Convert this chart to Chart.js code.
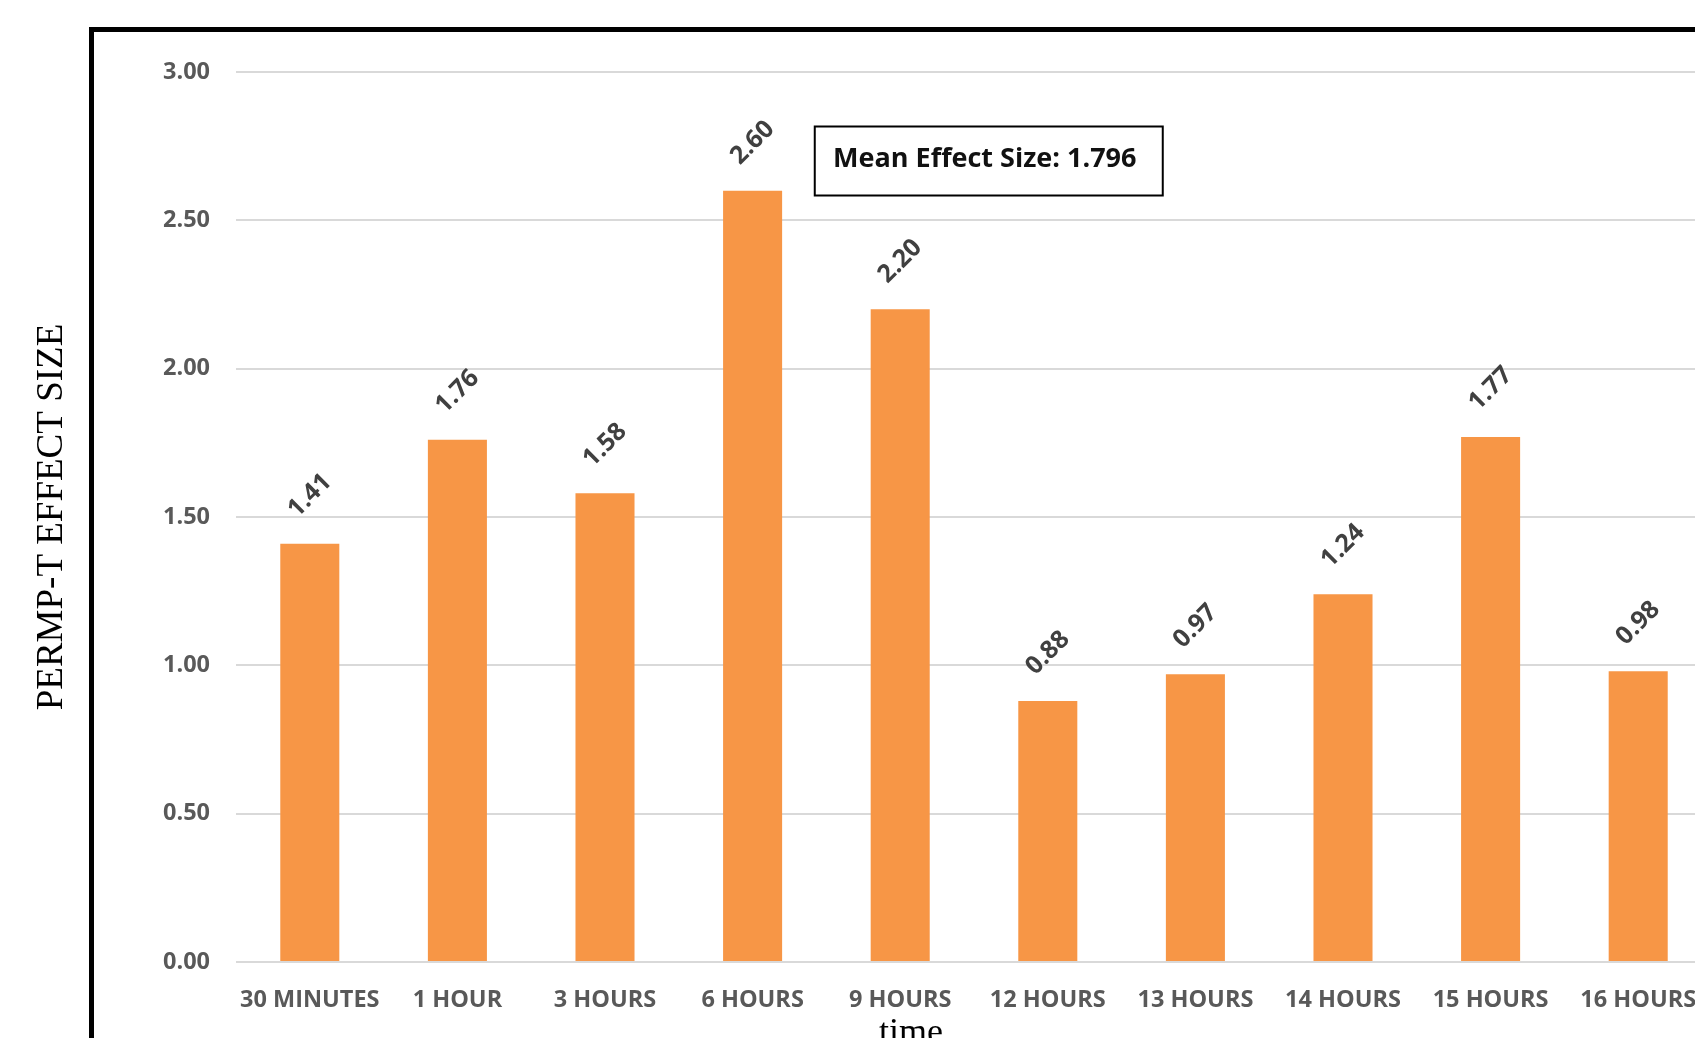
<!DOCTYPE html>
<html>
<head>
<meta charset="utf-8">
<title>PERMP-T effect size</title>
<script src="https://cdn.jsdelivr.net/npm/chart.js@4.4.0/dist/chart.umd.min.js"></script>
<style>
  html, body { margin: 0; padding: 0; background: #fff; overflow: hidden; }
  #wrap { position: absolute; left: 0; top: 0; width: 1720px; height: 1060px; }
</style>
</head>
<body>
<div id="wrap"><canvas id="chart" width="1720" height="1060"></canvas></div>
<script>
// dati
const categories = ['30 MINUTES', '1 HOUR', '3 HOURS', '6 HOURS', '9 HOURS',
                    '12 HOURS', '13 HOURS', '14 HOURS', '15 HOURS', '16 HOURS'];
const effectSizes = [1.41, 1.76, 1.58, 2.60, 2.20, 0.88, 0.97, 1.24, 1.77, 0.98];
const meanEffect = 1.796;
const yTicks = [0, 0.5, 1, 1.5, 2, 2.5, 3];

const sansFont = '"Open Sans", Lato, sans-serif';
const serifFont = '"Liberation Serif", "Times New Roman", serif';
Chart.defaults.font.family = sansFont;

// cornice nera e titolo dell'asse x
const framePlugin = {
    id: 'frame',
    beforeDraw(chart) {
        const ctx = chart.ctx;
        ctx.save();
        ctx.strokeStyle = '#000';
        ctx.lineWidth = 5;
        ctx.beginPath();
        ctx.moveTo(91.5, chart.height + 10);
        ctx.lineTo(91.5, 29.5);
        ctx.lineTo(chart.width + 10, 29.5);
        ctx.stroke();
        ctx.restore();
    },
    afterDraw(chart) {
        const ctx = chart.ctx;
        ctx.save();
        ctx.font = '36px ' + serifFont;
        ctx.fillStyle = '#000';
        ctx.textAlign = 'center';
        ctx.textBaseline = 'alphabetic';
        ctx.fillText('time', 911, 1043);
        ctx.restore();
    }
};

// etichette ruotate sopra le barre
const barLabelsPlugin = {
    id: 'barLabels',
    afterDatasetsDraw(chart) {
        const ctx = chart.ctx;
        const meta = chart.getDatasetMeta(0);
        ctx.save();
        ctx.font = 'bold 25px ' + sansFont;
        ctx.fillStyle = '#404040';
        ctx.textAlign = 'center';
        ctx.textBaseline = 'middle';
        meta.data.forEach((bar, i) => {
            ctx.save();
            ctx.translate(bar.x, bar.y - 48);
            ctx.rotate(-Math.PI / 4);
            ctx.fillText(effectSizes[i].toFixed(2), 0, 0);
            ctx.restore();
        });
        ctx.restore();
    }
};

// riquadro con la media
const meanBoxPlugin = {
    id: 'meanBox',
    afterDraw(chart) {
        const ctx = chart.ctx;
        const cx = chart.scales.x.getPixelForValue(4.6);
        const cy = chart.scales.y.getPixelForValue(2.70);
        const w = 348, h = 69;
        ctx.save();
        ctx.fillStyle = '#fff';
        ctx.fillRect(cx - w / 2, cy - h / 2, w, h);
        ctx.strokeStyle = '#000';
        ctx.lineWidth = 2;
        ctx.strokeRect(cx - w / 2, cy - h / 2, w, h);
        ctx.font = 'bold 27px ' + sansFont;
        ctx.fillStyle = '#111';
        ctx.textAlign = 'center';
        ctx.textBaseline = 'middle';
        ctx.fillText('Mean Effect Size: ' + meanEffect.toFixed(3), cx - 4, cy - 2);
        ctx.restore();
    }
};

const ctx = document.getElementById('chart').getContext('2d');
new Chart(ctx, {
    type: 'bar',
    data: {
        labels: categories,
        datasets: [{
            data: effectSizes,
            backgroundColor: '#F79646',
            borderWidth: 0,
            categoryPercentage: 1,
            barPercentage: 0.4
        }]
    },
    options: {
        responsive: false,
        animation: false,
        devicePixelRatio: 1,
        layout: { padding: { top: 72, right: 8, bottom: 0, left: 0 } },
        plugins: {
            legend: { display: false },
            tooltip: { enabled: false }
        },
        scales: {
            x: {
                grid: { display: false },
                border: { display: false },
                ticks: {
                    color: '#595959',
                    font: { size: 23.5, weight: 'bold' },
                    padding: 16,
                    maxRotation: 0,
                    autoSkip: false
                },
                afterFit(scale) { scale.height = 98; }
            },
            y: {
                min: 0,
                max: 3,
                afterBuildTicks(scale) { scale.ticks = yTicks.map(v => ({ value: v })); },
                grid: { color: '#d9d9d9', lineWidth: 2, drawTicks: false },
                border: { display: false },
                ticks: {
                    color: '#595959',
                    font: { size: 23.5, weight: 'bold' },
                    padding: 26,
                    callback: v => Number(v).toFixed(2)
                },
                title: {
                    display: true,
                    text: 'PERMP-T EFFECT SIZE',
                    color: '#000',
                    font: { family: serifFont, size: 37, weight: 'normal' },
                    padding: { top: 30, bottom: 0 }
                },
                afterFit(scale) { scale.width = 236; }
            }
        }
    },
    plugins: [framePlugin, barLabelsPlugin, meanBoxPlugin]
});
</script>
</body>
</html>
